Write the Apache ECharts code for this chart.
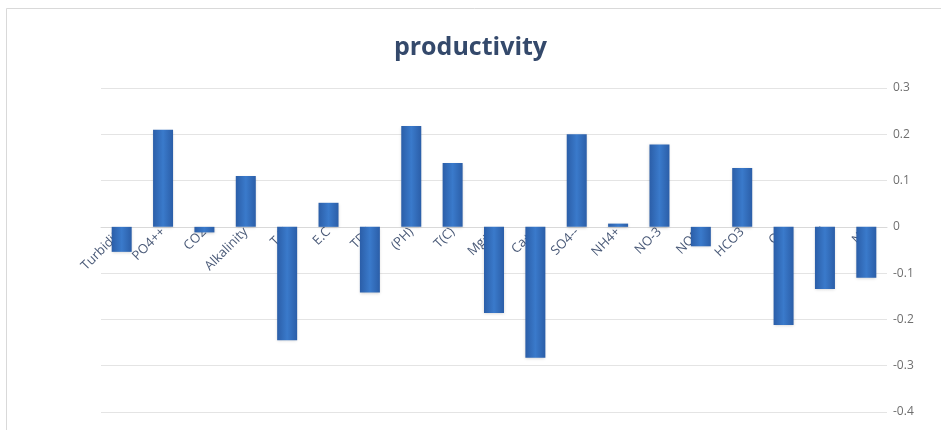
<!DOCTYPE html>
<html>
<head>
<meta charset="utf-8">
<script src="https://cdn.jsdelivr.net/npm/echarts@6/dist/echarts.min.js"></script>
<style>
  html, body { margin: 0; padding: 0; background: #ffffff; }
  #chart { width: 941px; height: 430px; }
</style>
</head>
<body>
<div id="chart"></div>
<script>
// Water-quality parameters and their productivity coefficients
const categories = ['Turbidity', 'PO4++', 'CO2', 'Alkalinity', 'T.H', 'E.C', 'TDS', '(PH)', 'T(C)',
  'Mg++', 'Ca++', 'SO4--', 'NH4+', 'NO-3', 'NO2-', 'HCO3', 'O2', 'Cl', 'Na'];
const productivity = [-0.054, 0.21, -0.012, 0.11, -0.245, 0.052, -0.142, 0.218, 0.138,
  -0.186, -0.283, 0.2, 0.007, 0.178, -0.042, 0.127, -0.212, -0.134, -0.11];
const yTicks = { min: -0.4, max: 0.3, step: 0.1 };

const gridBox = { left: 101, right: 54, top: 88, bottom: 18 };
const plotHeight = 430 - gridBox.top - gridBox.bottom;
// lift the category axis from the bottom edge up to the zero line
const zeroLift = (0 - yTicks.min) / (yTicks.max - yTicks.min) * plotHeight;

const chart = echarts.init(document.getElementById('chart'));

const barFill = new echarts.graphic.LinearGradient(0, 0, 1, 0, [
  { offset: 0, color: '#2b5ea8' },
  { offset: 0.5, color: '#3a7acb' },
  { offset: 1, color: '#2b5ea8' }
]);

chart.setOption({
  backgroundColor: '#ffffff',
  animation: false,
  title: {
    text: 'productivity',
    left: 'center',
    top: 30,
    textStyle: {
      fontFamily: 'Open Sans',
      fontWeight: 'bold',
      fontSize: 25,
      color: '#34496b'
    }
  },
  graphic: [{
    type: 'rect',
    shape: { x: 6.5, y: 8.5, width: 960, height: 440 },
    style: { fill: 'none', stroke: '#d9d9d9', lineWidth: 1 },
    silent: true
  }],
  grid: Object.assign({ containLabel: false, outerBoundsMode: 'none' }, gridBox),
  xAxis: {
    type: 'category',
    data: categories,
    offset: -zeroLift,
    z: 0,
    axisLine: { onZero: false, lineStyle: { color: '#d9d9d9' } },
    axisTick: { show: false },
    axisLabel: {
      rotate: 45,
      margin: 3,
      interval: 0,
      fontFamily: 'Open Sans',
      fontSize: 13,
      color: '#4a5a78'
    }
  },
  yAxis: {
    type: 'value',
    position: 'right',
    min: yTicks.min,
    max: yTicks.max,
    interval: yTicks.step,
    axisLine: { show: false },
    axisTick: { show: false },
    splitLine: { lineStyle: { color: '#e4e4e4' } },
    axisLabel: {
      margin: 6,
      fontFamily: 'Open Sans',
      fontSize: 12,
      color: '#6f6f6f',
      formatter: v => (Math.round(v * 10) / 10).toString()
    }
  },
  series: [{
    type: 'bar',
    data: productivity,
    barWidth: 20,
    z: 3,
    itemStyle: {
      color: barFill,
      shadowColor: 'rgba(0,0,0,0.18)',
      shadowBlur: 3,
      shadowOffsetY: 1
    }
  }]
});
</script>
</body>
</html>
